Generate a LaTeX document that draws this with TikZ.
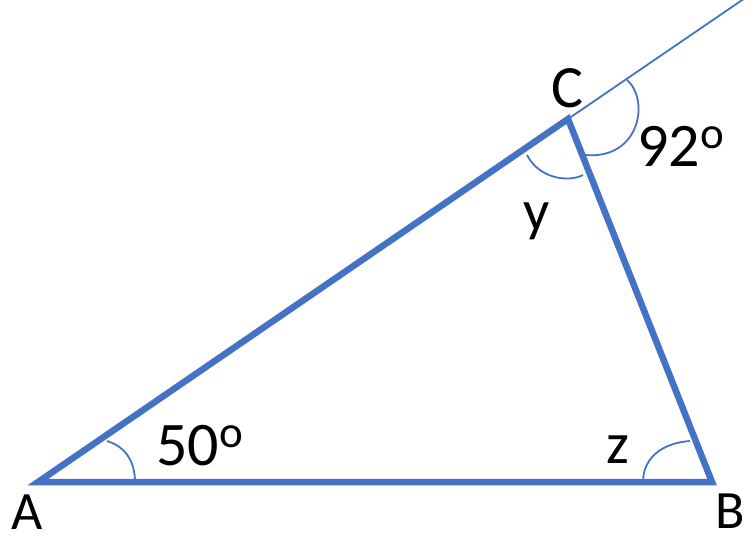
\documentclass[tikz,border=0pt]{standalone}
\usepackage{fontspec}
\setmainfont{Carlito}
\definecolor{tblue}{HTML}{4472C4}
\newcommand{\degsup}{{\fontsize{45}{45}\selectfont\raisebox{18pt}{o}}}
\begin{document}
\begin{tikzpicture}[x=1pt,y=-1pt,
  side/.style={draw=tblue,line width=6.5pt,line join=miter},
  thin/.style={draw=tblue,line width=1.8pt},
  lab/.style={inner sep=0pt,text=black}]
\useasboundingbox (0,0) rectangle (754,541);
\coordinate (A) at (38,482);
\coordinate (B) at (712,482);
\coordinate (C) at (568,119);
\coordinate (E) at (748,-4);
\draw[side] (A) -- (B) -- (C) -- cycle;
\draw[thin] (C) -- (E);
% angle arcs
\draw[thin] (135,482) .. controls (135,460) and (124,446) .. (107,441);
\draw[thin] (643,482) .. controls (643,458) and (662,443) .. (690,441);
\draw[thin] (527,155) .. controls (540,180) and (570,182) .. (583,175);
\draw[thin] (627,80) .. controls (650,100) and (640,160) .. (585,155);
% labels
\node[lab,font=\fontsize{54}{60}\selectfont] (la) at (27,512) {A};
\node[lab,font=\fontsize{54}{60}\selectfont] (lb) at (730,511) {B};
\node[lab,font=\fontsize{60}{66}\selectfont] (lc) at (567,88) {C};
\node[lab,font=\fontsize{58}{64}\selectfont,anchor=base] (ly) at (537,230) {y};
\node[lab,font=\fontsize{58}{64}\selectfont,anchor=base] (lz) at (618,463) {z};
\node[lab,font=\fontsize{62}{68}\selectfont,anchor=base west] (l92) at (637,166) {92\degsup};
\node[lab,font=\fontsize{62}{68}\selectfont,anchor=base west] (l50) at (156,465) {50\degsup};
\end{tikzpicture}
\end{document}
